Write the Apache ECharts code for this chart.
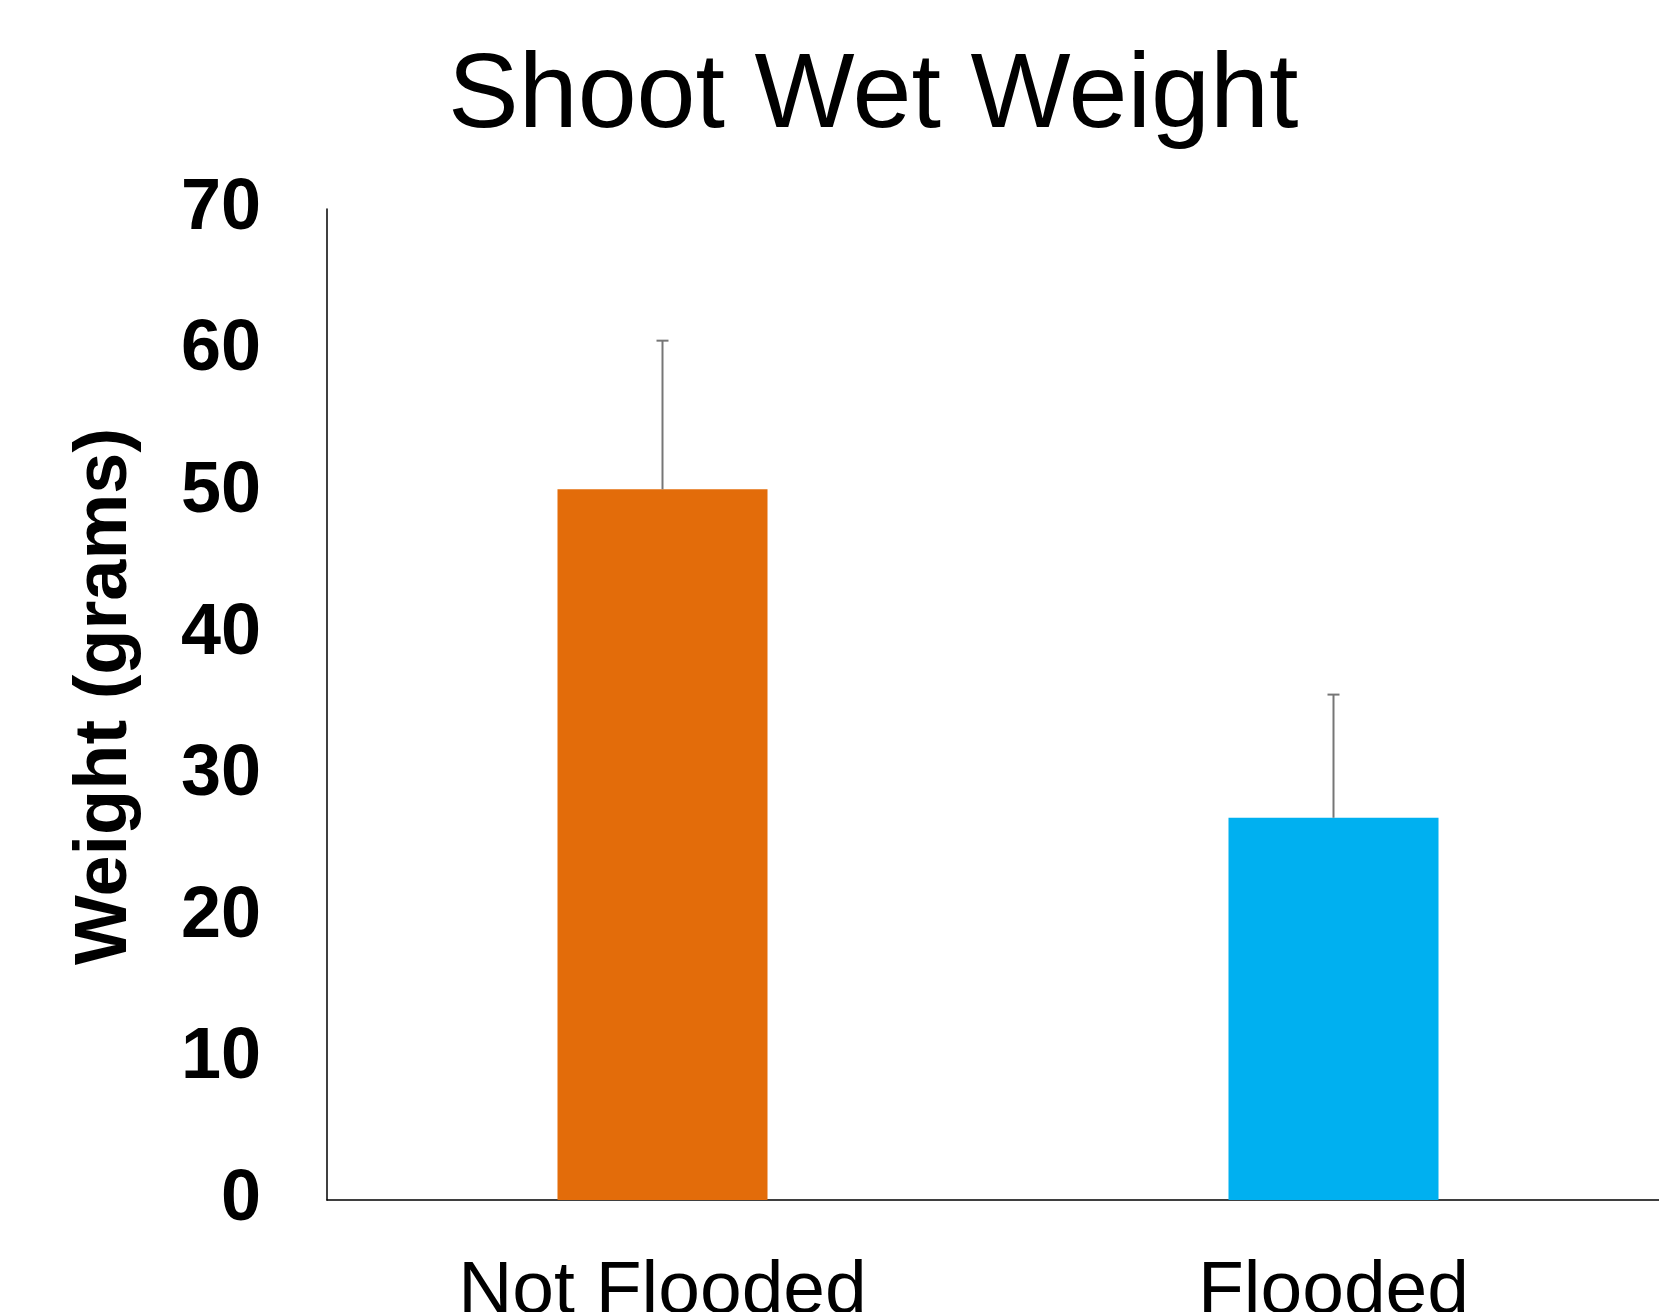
<!DOCTYPE html>
<html>
<head>
<meta charset="utf-8">
<style>
html,body{margin:0;padding:0;background:#fff;overflow:hidden;width:1659px;height:1312px;}
#chart{width:1659px;height:1312px;display:block;}
</style>
<script src="https://cdn.jsdelivr.net/npm/echarts@6/dist/echarts.min.js"></script>
</head>
<body>
<div id="chart"></div>
<script>
const titleText = 'Shoot Wet Weight';
const yAxisTitle = 'Weight (grams)';
const categories = ['Not Flooded', 'Flooded'];
const meanValues = [50.2, 27.0];
const errorUpper = [60.7, 35.7];
const barColors = ['#E36C0A', '#00B0F0'];
const yMin = 0, yMax = 70, yStep = 10;

const FONT = '"Liberation Sans", Arial, Helvetica, sans-serif';
const chart = echarts.init(document.getElementById('chart'), null, {renderer: 'canvas', width: 1659, height: 1312});

chart.setOption({
  backgroundColor: '#ffffff',
  animation: false,
  title: {
    text: titleText,
    left: 448,
    top: 45,
    padding: 0,
    textStyle: {fontFamily: FONT, fontSize: 106, fontWeight: 'normal', color: '#000', lineHeight: 106}
  },
  grid: {left: 327, top: 209, width: 1342, height: 991, containLabel: false, outerBoundsMode: 'none'},
  xAxis: {
    type: 'category',
    data: categories,
    axisLine: {show: true, lineStyle: {color: '#000', width: 1.5}},
    axisTick: {show: false},
    axisLabel: {fontFamily: FONT, fontSize: 75, color: '#000', margin: 55, lineHeight: 75}
  },
  yAxis: {
    type: 'value',
    min: yMin, max: yMax, interval: yStep,
    name: yAxisTitle,
    nameLocation: 'middle',
    nameRotate: 90,
    nameGap: 184,
    nameTextStyle: {fontFamily: FONT, fontSize: 74, fontWeight: 'bold', color: '#000', lineHeight: 74, padding: [0, 0, 0, 16]},
    axisLine: {show: true, lineStyle: {color: '#000', width: 1.5}},
    axisTick: {show: false},
    splitLine: {show: false},
    axisLabel: {fontFamily: FONT, fontSize: 72, fontWeight: 'bold', color: '#000', margin: 66, padding: [6, 0, 0, 0]}
  },
  series: [
    {
      type: 'bar',
      data: meanValues.map((v, i) => ({value: v, itemStyle: {color: barColors[i]}})),
      barWidth: '31.3%'
    },
    {
      type: 'custom',
      data: categories.map((c, i) => [i, meanValues[i], errorUpper[i]]),
      renderItem: function (params, api) {
        const x = api.value(0);
        const base = api.coord([x, api.value(1)]);
        const top = api.coord([x, api.value(2)]);
        const hw = 6;
        return {
          type: 'group',
          children: [
            {type: 'line', shape: {x1: base[0], y1: base[1], x2: top[0], y2: top[1]}, style: {stroke: '#767676', lineWidth: 2}},
            {type: 'line', shape: {x1: top[0] - hw, y1: top[1], x2: top[0] + hw, y2: top[1]}, style: {stroke: '#767676', lineWidth: 2}}
          ]
        };
      },
      z: 5
    }
  ]
});
</script>
</body>
</html>
